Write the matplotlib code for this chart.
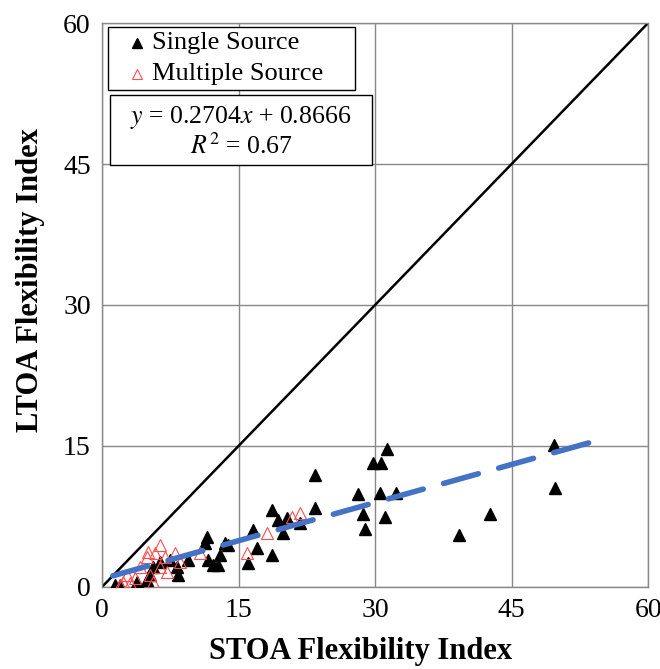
import matplotlib

matplotlib.use("Agg")
import matplotlib.pyplot as plt
from matplotlib.patches import Rectangle
import numpy as np

# single source points (STOA, LTOA)
single_x = [1.4, 2.0, 3.8, 4.9, 5.3, 5.6, 6.4, 7.5, 8.2, 8.4, 9.5, 11.5, 11.3, 11.6,
            12.2, 12.7, 13.0, 13.5, 13.8, 16.0, 16.6, 17.0, 18.7, 18.7, 19.3, 19.9,
            20.3, 21.8, 23.4, 23.4, 28.1, 28.7, 28.9, 29.8, 30.7, 31.3, 30.5, 31.1,
            32.3, 39.2, 42.6, 49.7, 49.8]
single_y = [0.2, 0.2, 0.5, 0.7, 1.3, 2.1, 2.7, 2.9, 2.1, 1.3, 2.9, 5.3, 4.7, 2.9,
            2.3, 2.3, 3.4, 4.7, 4.5, 2.6, 6.1, 4.1, 3.4, 8.2, 7.1, 5.7,
            7.3, 6.8, 11.9, 8.4, 9.9, 7.8, 6.2, 13.2, 13.2, 14.7, 10.0, 7.4,
            10.0, 5.5, 7.8, 15.1, 10.5]

# multiple source points
multi_x = [2.0, 2.3, 2.7, 3.1, 3.6, 4.2, 4.9, 5.1, 5.8, 6.4, 6.9, 8.0, 8.6, 5.3,
           5.6, 6.4, 7.1, 10.8, 15.9, 18.1, 20.9, 21.8]
multi_y = [0.2, 0.5, 1.3, 0.4, 1.0, 2.1, 3.2, 3.7, 3.6, 4.5, 3.2, 3.6, 2.7, 1.3,
           0.5, 2.1, 1.6, 3.6, 3.6, 5.7, 7.4, 7.9]

slope, intercept = 0.2704, 0.8666
fit_range = [1.2, 53.6]
ticks = [0, 15, 30, 45, 60]
series_names = ["Single Source", "Multiple Source"]

plt.rcParams["font.family"] = ["Liberation Serif", "DejaVu Serif"]
plt.rcParams["mathtext.fontset"] = "stix"

fig = plt.figure(figsize=(6.6, 6.69), dpi=100)
ax = fig.add_axes([0.1545, 0.1226, 0.8275, 0.843])

ax.set_xlim(0, 60)
ax.set_ylim(0, 60)
ax.set_xticks(ticks)
ax.set_yticks(ticks)
ax.grid(True, color="#888888", linewidth=1.0)
ax.set_axisbelow(True)
for spine in ax.spines.values():
    spine.set_color("#888888")
    spine.set_linewidth(1.0)
ax.tick_params(length=0, labelsize=20, pad=8)

ax.plot([0, 60], [0, 60], color="black", linewidth=1.8, zorder=2)

ax.plot(single_x, single_y, linestyle="none", marker="^", markersize=9,
        markerfacecolor="black", markeredgecolor="black", zorder=3)
ax.plot(multi_x, multi_y, linestyle="none", marker="^", markersize=9,
        markerfacecolor="none", markeredgecolor="#ff4d4d", markeredgewidth=0.8, zorder=4)

fx = np.array(fit_range)
ax.plot(fx, slope * fx + intercept, color="#4472C4", linewidth=4,
        dashes=(6.5, 3.8), solid_capstyle="round", dash_capstyle="round", zorder=5)

ax.set_xlabel("STOA Flexibility Index", fontsize=22, fontweight="bold")
ax.set_ylabel("LTOA Flexibility Index", fontsize=22, fontweight="bold")
ax.xaxis.set_label_coords(0.473, -0.088)
ax.yaxis.set_label_coords(-0.104, 0.544)

# legend box drawn by hand so it matches the reference layout
tr = ax.transAxes
ax.add_patch(Rectangle((0.011, 0.881), 0.452, 0.112, transform=tr, facecolor="white",
                       edgecolor="black", linewidth=1.0, zorder=6, clip_on=False))
ax.plot([0.064], [0.9645], transform=tr, linestyle="none", marker="^", markersize=7,
        markerfacecolor="black", markeredgecolor="black", zorder=7, clip_on=False)
ax.plot([0.064], [0.9096], transform=tr, linestyle="none", marker="^", markersize=7,
        markerfacecolor="none", markeredgecolor="#ff4d4d", markeredgewidth=0.8,
        zorder=7, clip_on=False)
ax.text(0.0916, 0.9645, series_names[0], transform=tr, fontsize=19, va="center", zorder=7)
ax.text(0.0916, 0.9096, series_names[1], transform=tr, fontsize=19, va="center", zorder=7)

# equation box
ax.add_patch(Rectangle((0.0147, 0.748), 0.4798, 0.124, transform=tr, facecolor="white",
                       edgecolor="black", linewidth=1.0, zorder=6, clip_on=False))
ax.text(0.2546, 0.8316, f"$y$ = {slope}$x$ + {intercept}", transform=tr, fontsize=18.5,
        ha="center", va="center", zorder=7)
ax.text(0.2546, 0.782, "$R^2$ = 0.67", transform=tr, fontsize=18.5,
        ha="center", va="center", zorder=7)

fig.savefig("out.png", dpi=100)
